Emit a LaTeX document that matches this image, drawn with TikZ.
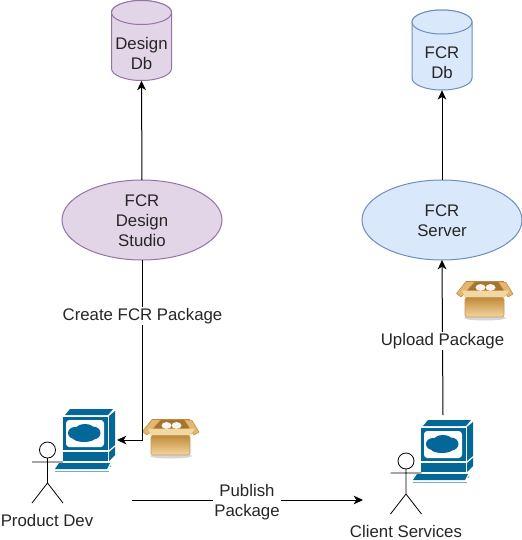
\documentclass[tikz,border=0pt]{standalone}
\usepackage{fontspec}
\setmainfont{Liberation Sans}
\usetikzlibrary{arrows.meta}
\definecolor{purpfill}{HTML}{E1D5E7}
\definecolor{purpline}{HTML}{9673A6}
\definecolor{bluefill}{HTML}{DAE8FC}
\definecolor{blueline}{HTML}{6C8EBF}
\definecolor{pcblue}{HTML}{036897}
\definecolor{boxdark}{HTML}{C08A38}
\definecolor{boxmid}{HTML}{E3B76F}
\definecolor{boxlight}{HTML}{F4D6A0}
\tikzset{
  lbl/.style={font=\fontsize{12.6}{15}\selectfont, align=center, text=black!85, inner sep=1pt},
  lblw/.style={lbl, fill=white},
  conn/.style={line width=0.75pt, black},
  arr/.style={conn, -{Stealth[length=7pt,width=6.5pt,inset=2pt]}},
  purp/.style={fill=purpfill, draw=purpline, line width=0.75pt},
  blu/.style={fill=bluefill, draw=blueline, line width=0.75pt},
  dbshape/.pic={
    \path[pic actions] (-30,-28) arc[start angle=180,end angle=360,x radius=30,y radius=12] -- (30,28)
       arc[start angle=0,end angle=180,x radius=30,y radius=12] -- cycle;
    \path[pic actions] (-30,-28) arc[start angle=180,end angle=0,x radius=30,y radius=12]
       arc[start angle=0,end angle=-180,x radius=30,y radius=12] -- cycle;
  },
  computer/.pic={
    \fill[pcblue] (65,415) -- (70,409) -- (113,409) -- (108,415) -- cycle;
    \fill[pcblue] (109,416) -- (115,411) -- (115,445) -- (109,450) -- cycle;
    \fill[pcblue] (63,416.5) rectangle (107.5,450);
    \fill[white, rounded corners=2.5pt] (66,420) rectangle (104,447);
    \fill[pcblue] (84,433) ellipse[x radius=14,y radius=7];
    \fill[pcblue] (75,433) ellipse[x radius=7,y radius=6];
    \fill[pcblue] (93,433) ellipse[x radius=7.5,y radius=6.5];
    \fill[pcblue] (85,429) ellipse[x radius=9,y radius=5];
    \fill[pcblue] (84,438) ellipse[x radius=11,y radius=4];
    \fill[pcblue] (63,452) rectangle (107.5,461);
    \fill[pcblue] (109,452) -- (115,447) -- (115,455) -- (109,461) -- cycle;
    \fill[pcblue] (59,463) -- (110,463) -- (107,469) -- (55,469) -- cycle;
    \draw[pcblue!55, line width=0.75pt] (55,471) -- (109,471);
    \fill[pcblue!55] (109.5,467) -- (111,465) -- (111,467) -- cycle;
  },
  pkg/.pic={
    \fill[black!35, opacity=.45] (171,456) ellipse[x radius=21,y radius=2.5];
    % back and interior
    \fill[boxdark!85!black] (152,420) -- (186,420) -- (192,434) -- (150,434) -- cycle;
    \fill[white!92!brown] (166.5,425.5) ellipse[x radius=5,y radius=3.4];
    \fill[white!92!brown] (176.5,425.5) ellipse[x radius=5,y radius=3.4];
    % flaps
    \fill[boxmid, draw=boxdark, line width=0.4pt, line join=round] (142.5,431.5) -- (152,419.5) -- (161,419.5) -- (151,431) -- (147,435) -- cycle;
    \fill[boxmid, draw=boxdark, line width=0.4pt, line join=round] (184,419.5) -- (192,420.5) -- (199,432) -- (194,435) -- cycle;
    \draw[boxdark, line width=0.6pt] (152,419.7) -- (190,419.7);
    % front lid
    \fill[boxlight] (148,428.5) -- (195,428.5) -- (190,436) -- (151,436) -- cycle;
    % body
    \shade[top color=boxdark, bottom color=boxlight, draw=boxmid!85!black, line width=0.5pt, rounded corners=1.5pt]
       (151,435.5) rectangle (190,455);
  },
  actorpic/.pic={
    \draw[conn, line width=0.6pt, fill=white] (0,-12) circle[radius=8];
    \draw[conn, line width=0.6pt] (0,-4) -- (0,21) (-15.5,0) -- (15.5,0)
      (-15.5,41) -- (0,21) -- (15.5,41);
  }
}
\begin{document}
\begin{tikzpicture}[x=0.75pt,y=-0.75pt]
\useasboundingbox (0,0) rectangle (522,540);
\fill[white] (0,0) rectangle (522,540);

% data stores
\pic[purp] at (141.5,40.5) {dbshape};
\pic[blu] at (442,50) {dbshape};
\node[lbl, minimum width=45pt, minimum height=60pt] (designdb) at (141.5,40.5) {};
\node[lbl] (designdbt) at (141.5,53.5) {Design\\Db};
\node[lbl, minimum width=45pt, minimum height=60pt] (fcrdb) at (442,50) {};
\node[lbl] (fcrdbt) at (442,62.5) {FCR\\Db};

% connector end points
\coordinate (pcin) at (117,440);
\coordinate (pubfrom) at (132,500);
\coordinate (pubto) at (363,500);
\coordinate (upfrom) at (443,415);
\coordinate (bendl) at (142,440);

% computers
\pic at (0,0) {computer};
\pic at (358,11) {computer};

% actors
\pic at (47.5,462) {actorpic};
\pic at (406,473) {actorpic};

% boxes
\pic at (0,0) {pkg};
\pic at (314,-138) {pkg};

% main nodes
\draw[purp] (142,220) ellipse[x radius=80,y radius=40];
\draw[blu] (442,220) ellipse[x radius=80,y radius=40];
\node[lbl, minimum width=110pt, minimum height=60pt, inner sep=0pt] (studio) at (142,221) {FCR\\Design\\Studio};
\node[lbl, minimum width=110pt, minimum height=60pt, inner sep=0pt] (server) at (442,221) {FCR\\Server};
\coordinate (studiotop) at (142,180);
\coordinate (studiobot) at (142,260);
\coordinate (servertop) at (442,180);
\coordinate (serverbot) at (442,260);

% connectors
\draw[arr] (studiotop) -- (designdb.south);
\draw[arr] (servertop) -- (fcrdb.south);
\draw[arr] (upfrom) -- (serverbot);
\draw[arr] (studiobot) -- (bendl) -- (pcin);
\draw[arr] (pubfrom) -- (pubto);

% labels
\node[lblw] (create) at (142.5,316) {Create FCR Package};
\node[lblw] (upload) at (442.5,341) {Upload Package};
\node[lblw] (publish) at (247,502) {Publish\\Package};
\node[lbl] (proddev) at (47,520) {Product Dev};
\node[lbl] (client) at (406,531) {Client Services};
\end{tikzpicture}
\end{document}
